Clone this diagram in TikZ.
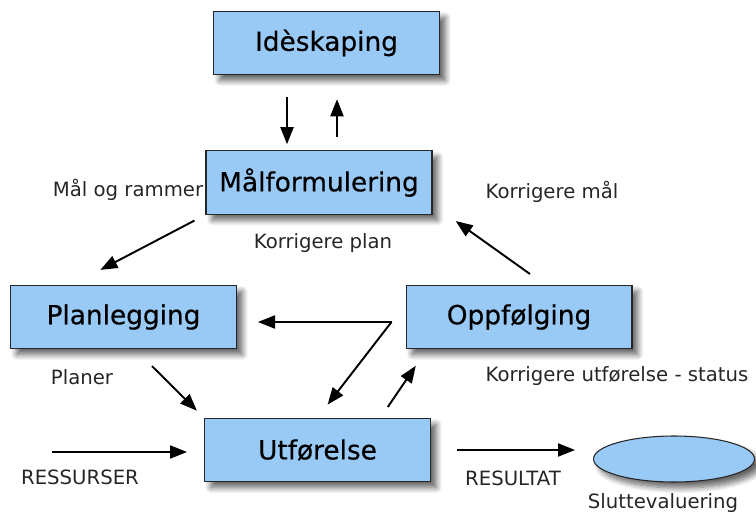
\documentclass[tikz,border=0pt]{standalone}
\usepackage{fontspec}
\setmainfont{DejaVu Sans}
\newfontfamily\boxfont{DejaVu Sans}[FakeBold=0.4]
\usetikzlibrary{arrows.meta,positioning,calc,shadows.blur,shapes.geometric}
\definecolor{boxblue}{HTML}{99C9F5}

\begin{document}
\begin{tikzpicture}[x=0.02cm, y=-0.02cm,
  every node/.style={font=\fontsize{11.2}{13}\selectfont, text=black!85},
  shade/.style={blur shadow={shadow xshift=0.12cm, shadow yshift=-0.12cm, shadow blur steps=8, shadow blur radius=1.1mm, shadow opacity=60}},
  box/.style={rectangle, draw=black!85, semithick, fill=boxblue, shade, minimum width=4.52cm, minimum height=1.27cm, font=\boxfont\fontsize{15}{18}\selectfont, text=black},
  arr/.style={-{Triangle[length=3.4mm, width=2.6mm]}, line width=1.1pt},
]
\useasboundingbox (0,0) rectangle (756,516);

\node[box] (ides) at (326.5,43) {Idèskaping};
\node[box] (mal) at (319,182.5) {Målformulering};
\node[box] (plan) at (123.5,317) {Planlegging};
\node[box] (oppf) at (519,317) {Oppfølging};
\node[box] (utf) at (317.5,450) {Utførelse};
\node[ellipse, draw=black!85, semithick, fill=boxblue, shade, minimum width=3.22cm, minimum height=0.92cm] (slutt) at (674,459) {};

\coordinate (fork) at ([xshift=-0.28cm, yshift=-0.1cm]oppf.west);
\coordinate (res) at (52,452);

\draw[arr, shorten <=0.44cm, shorten >=0.12cm] ([xshift=-0.79cm]ides.south) -- ([xshift=-0.79cm]ides.south |- mal.north);
\draw[arr, shorten <=0.26cm, shorten >=0.48cm] ([xshift=0.21cm]ides.south |- mal.north) -- ([xshift=0.21cm]ides.south);
\draw[arr, shorten <=0.25cm, shorten >=0.64cm] (mal.south west) -- ([xshift=-1.03cm]plan.north);
\draw[arr, shorten >=0.42cm] (fork) -- (fork -| plan.east);
\draw[arr, shorten >=0.33cm] (fork) -- (utf.north);
\draw[arr, shorten <=0.26cm, shorten >=0.4cm] ([xshift=1.26cm]utf.north) -- ([xshift=-1.84cm]oppf.south);
\draw[arr, shorten <=0.48cm, shorten >=0.2cm] ([xshift=0.23cm]plan.south) -- (utf.north west);
\draw[arr, shorten <=0.37cm, shorten >=0.57cm] ([xshift=0.52cm]oppf.north) -- ([yshift=-0.44cm]mal.east);
\draw[arr, shorten >=0.34cm] (res) -- (res -| utf.west);
\draw[arr, shorten <=0.52cm, shorten >=0.36cm] (utf.east) -- (utf.east -| slutt.west);

\node (malr) at (128,190) {Mål og rammer};
\node (kplan) at (323,243) {Korrigere plan};
\node (kmal) at (552,192) {Korrigere mål};
\node (planer) at (82,377) {Planer};
\node (kutf) at (617,376) {Korrigere utførelse - status};
\node (ressurser) at (80,477) {RESSURSER};
\node (resultat) at (513,478) {RESULTAT};
\node (sluttlbl) at (663,503) {Sluttevaluering};

\end{tikzpicture}
\end{document}
